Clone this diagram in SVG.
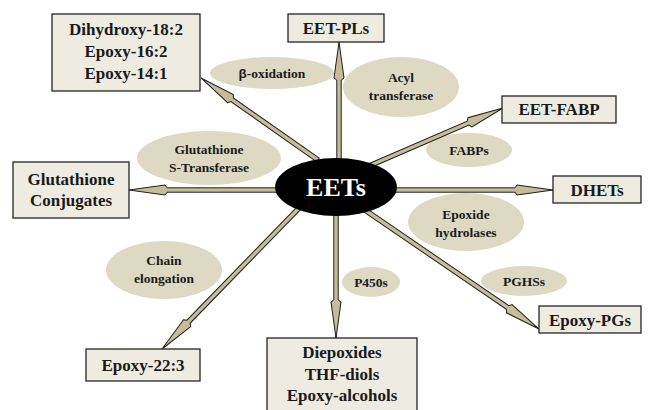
<svg xmlns="http://www.w3.org/2000/svg" width="650" height="410" viewBox="0 0 650 410">
<defs>
<style>
.box{fill:#eeece1;stroke:#262626;stroke-width:1.3}
.enz{fill:#ddd9c3;stroke:none}
.arr{fill:#c4bd97;stroke:#1e1e1e;stroke-width:1;stroke-linejoin:miter}
.bt{font-family:"Liberation Serif",serif;font-weight:bold;font-size:17px;fill:#1a1a1a;text-anchor:middle}
.et{font-family:"Liberation Serif",serif;font-weight:bold;font-size:13.5px;fill:#1a1a1a;text-anchor:middle}
.ct{font-family:"Liberation Serif",serif;font-weight:bold;font-size:26px;fill:#ffffff;text-anchor:middle}
</style>
</defs>
<rect width="650" height="410" fill="#ffffff"/>

<g id="enzymes">
<g id="e-beta"><ellipse class="enz" cx="272" cy="73" rx="62" ry="16"/><text class="et" x="272" y="78"><tspan font-family="Liberation Sans,sans-serif">β</tspan>-oxidation</text></g>
<g id="e-acyl"><ellipse class="enz" cx="401" cy="87" rx="58" ry="30"/><text class="et" x="401" y="82">Acyl</text><text class="et" x="401" y="100">transferase</text></g>
<g id="e-fabps"><ellipse class="enz" cx="469" cy="150" rx="43" ry="17"/><text class="et" x="469" y="155">FABPs</text></g>
<g id="e-gst"><ellipse class="enz" cx="209" cy="158" rx="72" ry="27"/><text class="et" x="209" y="154">Glutathione</text><text class="et" x="209" y="172">S-Transferase</text></g>
<g id="e-chain"><ellipse class="enz" cx="164" cy="270" rx="58" ry="29"/><text class="et" x="164" y="265">Chain</text><text class="et" x="164" y="283">elongation</text></g>
<g id="e-eh"><ellipse class="enz" cx="466" cy="222" rx="58" ry="29"/><text class="et" x="466" y="219">Epoxide</text><text class="et" x="466" y="237">hydrolases</text></g>
<g id="e-p450"><ellipse class="enz" cx="371" cy="282" rx="29" ry="15"/><text class="et" x="371" y="287">P450s</text></g>
<g id="e-pghs"><ellipse class="enz" cx="524" cy="281" rx="43" ry="15"/><text class="et" x="524" y="286">PGHSs</text></g>
</g>

<g id="connectors">
<polygon class="arr" transform="translate(318,160) rotate(-144.97)" points="0,-2.2 104.9,-2.2 106.9,-5 142.9,0 106.9,5 104.9,2.2 0,2.2"/>
<polygon class="arr" transform="translate(339,170) rotate(-90)" points="0,-2.2 90,-2.2 92,-5 128,0 92,5 90,2.2 0,2.2"/>
<polygon class="arr" transform="translate(362,169) rotate(-23.39)" points="0,-2.2 115.6,-2.2 117.6,-5 153.6,0 117.6,5 115.6,2.2 0,2.2"/>
<polygon class="arr" transform="translate(380,190)" points="0,-2.2 135,-2.2 137,-5 173,0 137,5 135,2.2 0,2.2"/>
<polygon class="arr" transform="translate(362,208) rotate(34.36)" points="0,-2.2 176.4,-2.2 178.4,-5 214.4,0 178.4,5 176.4,2.2 0,2.2"/>
<polygon class="arr" transform="translate(336,205) rotate(90)" points="0,-2.2 95,-2.2 97,-5 133,0 97,5 95,2.2 0,2.2"/>
<polygon class="arr" transform="translate(300,207) rotate(134.18)" points="0,-2.2 160,-2.2 162,-5 198,0 162,5 160,2.2 0,2.2"/>
<polygon class="arr" transform="translate(290,190) rotate(180)" points="0,-2.2 123,-2.2 125,-5 161,0 125,5 123,2.2 0,2.2"/>
</g>

<g id="eets"><ellipse cx="336" cy="187" rx="61" ry="29" fill="#000000"/><text class="ct" x="336" y="196">EETs</text></g>

<g id="n-dihydroxy"><rect class="box" x="52" y="14" width="148" height="77"/><text class="bt" x="126" y="35">Dihydroxy-18:2</text><text class="bt" x="126" y="57">Epoxy-16:2</text><text class="bt" x="126" y="79">Epoxy-14:1</text></g>
<g id="n-eetpls"><rect class="box" x="288" y="14" width="96" height="28"/><text class="bt" x="336" y="34">EET-PLs</text></g>
<g id="n-eetfabp"><rect class="box" x="502" y="96" width="114" height="27"/><text class="bt" x="559" y="115">EET-FABP</text></g>
<g id="n-glut"><rect class="box" x="13" y="162" width="116" height="56"/><text class="bt" x="71" y="185">Glutathione</text><text class="bt" x="71" y="206">Conjugates</text></g>
<g id="n-dhets"><rect class="box" x="553" y="176" width="88" height="27"/><text class="bt" x="597" y="196">DHETs</text></g>
<g id="n-epoxy223"><rect class="box" x="86" y="349" width="114" height="32"/><text class="bt" x="143" y="371">Epoxy-22:3</text></g>
<g id="n-diepox"><rect class="box" x="267" y="338" width="150" height="74"/><text class="bt" x="342" y="358">Diepoxides</text><text class="bt" x="342" y="380">THF-diols</text><text class="bt" x="342" y="401">Epoxy-alcohols</text></g>
<g id="n-epoxypgs"><rect class="box" x="539" y="306" width="102" height="27"/><text class="bt" x="590" y="326">Epoxy-PGs</text></g>
</svg>
